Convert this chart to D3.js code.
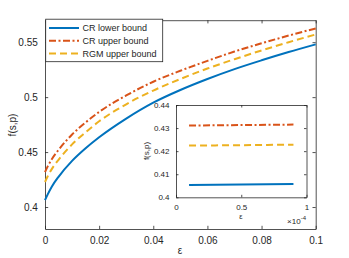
<!DOCTYPE html>
<html><head><meta charset="utf-8">
<script src="https://cdn.jsdelivr.net/npm/d3@7"></script>
<style>
body{margin:0;background:#fff;}
svg{display:block;font-family:"Liberation Sans",Arial,sans-serif;}
</style></head>
<body>
<svg id="c" width="349" height="258"></svg>
<script>
// ---- data ----
const eps = [0, 0.001, 0.0025, 0.005, 0.01, 0.015, 0.02, 0.03, 0.04, 0.05, 0.06, 0.07, 0.08, 0.09, 0.1];
const crLower = [0.4062, 0.4115, 0.4185, 0.4275, 0.4420, 0.4535, 0.4635, 0.4805, 0.4950, 0.5065, 0.5165, 0.5255, 0.5335, 0.5410, 0.5480];
const crUpper = [0.4318, 0.4370, 0.4435, 0.4520, 0.4660, 0.4770, 0.4865, 0.5015, 0.5140, 0.5240, 0.5330, 0.5415, 0.5490, 0.5560, 0.5625];
const rgmUpper = [0.4228, 0.4280, 0.4345, 0.4430, 0.4570, 0.4680, 0.4780, 0.4935, 0.5060, 0.5165, 0.5260, 0.5345, 0.5425, 0.5500, 0.5570];
const seriesNames = ["CR lower bound", "CR upper bound", "RGM upper bound"];
const xTicks = [0, 0.02, 0.04, 0.06, 0.08, 0.1];
const yTicks = [0.4, 0.45, 0.5, 0.55];
// inset (zoom near eps = 0, units of 1e-4)
const insetEps = [0.1e-4, 0.3e-4, 0.5e-4, 0.7e-4, 0.9e-4];
const insetLower = [0.4053, 0.4054, 0.4055, 0.4057, 0.4058];
const insetUpper = [0.4311, 0.4312, 0.4313, 0.4314, 0.4315];
const insetRgm = [0.4224, 0.4225, 0.4226, 0.4227, 0.4228];
const insetXTicks = [0, 0.5e-4, 1e-4];
const insetYTicks = [0.4, 0.41, 0.42, 0.43, 0.44];

const colors = ["#0072BD", "#D95319", "#EDB120"];
const dashes = [null, "7,2.5,2,2.5", "7,4"];
const axisCol = "#262626";

const svg = d3.select("#c");

function drawAxes(g, x, y, xt, yt, xfmt, yfmt, fs, tl) {
  const [x0, x1] = x.range(), [y0, y1] = y.range();
  g.append("rect").attr("x", x0).attr("y", y1).attr("width", x1 - x0).attr("height", y0 - y1)
    .attr("fill", "#fff");
  const ax = (gen, tx, ty) => {
    const a = g.append("g").attr("transform", `translate(${tx},${ty})`).call(gen);
    a.select(".domain").attr("stroke", axisCol).attr("stroke-width", 0.8);
    a.selectAll(".tick line").attr("stroke", axisCol).attr("stroke-width", 0.8);
    a.selectAll("text").attr("fill", axisCol).attr("font-size", fs);
    return a;
  };
  ax(d3.axisBottom(x).tickValues(xt).tickSizeInner(-tl).tickSizeOuter(0).tickPadding(tl + 5).tickFormat(xfmt), 0, y0);
  ax(d3.axisTop(x).tickValues(xt).tickSizeInner(-tl).tickSizeOuter(0).tickFormat(""), 0, y1);
  ax(d3.axisLeft(y).tickValues(yt).tickSizeInner(-tl).tickSizeOuter(0).tickPadding(tl + 4).tickFormat(yfmt), x0, 0);
  ax(d3.axisRight(y).tickValues(yt).tickSizeInner(-tl).tickSizeOuter(0).tickFormat(""), x1, 0);
}

// ---- main axes ----
const x = d3.scaleLinear().domain([0, 0.1]).range([45, 315.7]);
const y = d3.scaleLinear().domain([0.38, 0.57]).range([229, 20.2]);
const main = svg.append("g");
drawAxes(main, x, y, xTicks, yTicks, d => String(+d.toFixed(2)), d => String(+d.toFixed(2)), 10, 3.2);

const line = d3.line().x(d => x(d[0])).y(d => y(d[1])).curve(d3.curveMonotoneX);
[crLower, crUpper, rgmUpper].forEach((s, i) => {
  main.append("path").datum(eps.map((e, j) => [e, s[j]]))
    .attr("d", line).attr("fill", "none").attr("stroke", colors[i])
    .attr("stroke-width", 2).attr("stroke-dasharray", dashes[i]);
});
main.append("text").attr("x", 180).attr("y", 254).attr("text-anchor", "middle")
  .attr("font-size", 10).attr("fill", axisCol).text("ε");
main.append("text").attr("transform", "translate(16,125) rotate(-90)").attr("text-anchor", "middle")
  .attr("font-size", 10).attr("fill", axisCol).text("f(s,p)");

// ---- legend ----
const leg = svg.append("g");
leg.append("rect").attr("x", 45.7).attr("y", 19.2).attr("width", 117).attr("height", 42.5)
  .attr("fill", "#fff").attr("stroke", axisCol).attr("stroke-width", 0.8);
seriesNames.forEach((n, i) => {
  const yy = 28 + i * 12.7;
  leg.append("line").attr("x1", 49).attr("x2", 79).attr("y1", yy).attr("y2", yy)
    .attr("stroke", colors[i]).attr("stroke-width", 2).attr("stroke-dasharray", dashes[i]);
  leg.append("text").attr("x", 82.5).attr("y", yy + 3.2).attr("font-size", 9)
    .attr("fill", axisCol).text(n);
});

// ---- inset ----
const xi = d3.scaleLinear().domain([0, 1e-4]).range([176, 306.5]);
const yi = d3.scaleLinear().domain([0.4, 0.44]).range([197.3, 105]);
const ins = svg.append("g");
drawAxes(ins, xi, yi, insetXTicks, insetYTicks, d => String(+(d * 1e4).toFixed(1)), d => String(+d.toFixed(2)), 8, 2.5);
const linei = d3.line().x(d => xi(d[0])).y(d => yi(d[1]));
[insetLower, insetUpper, insetRgm].forEach((s, i) => {
  ins.append("path").datum(insetEps.map((e, j) => [e, s[j]]))
    .attr("d", linei).attr("fill", "none").attr("stroke", colors[i])
    .attr("stroke-width", 2).attr("stroke-dasharray", dashes[i]);
});
ins.append("text").attr("x", 241).attr("y", 219).attr("text-anchor", "middle")
  .attr("font-size", 7.5).attr("fill", axisCol).text("ε");
ins.append("text").attr("transform", "translate(149,151) rotate(-90)").attr("text-anchor", "middle")
  .attr("font-size", 8).attr("fill", axisCol).text("f(s,p)");
const sci = ins.append("text").attr("x", 306).attr("y", 223.5).attr("text-anchor", "end")
  .attr("font-size", 8).attr("fill", axisCol);
sci.append("tspan").text("×10");
sci.append("tspan").attr("dy", -3.5).attr("font-size", 6).text("-4");
</script>
</body></html>
